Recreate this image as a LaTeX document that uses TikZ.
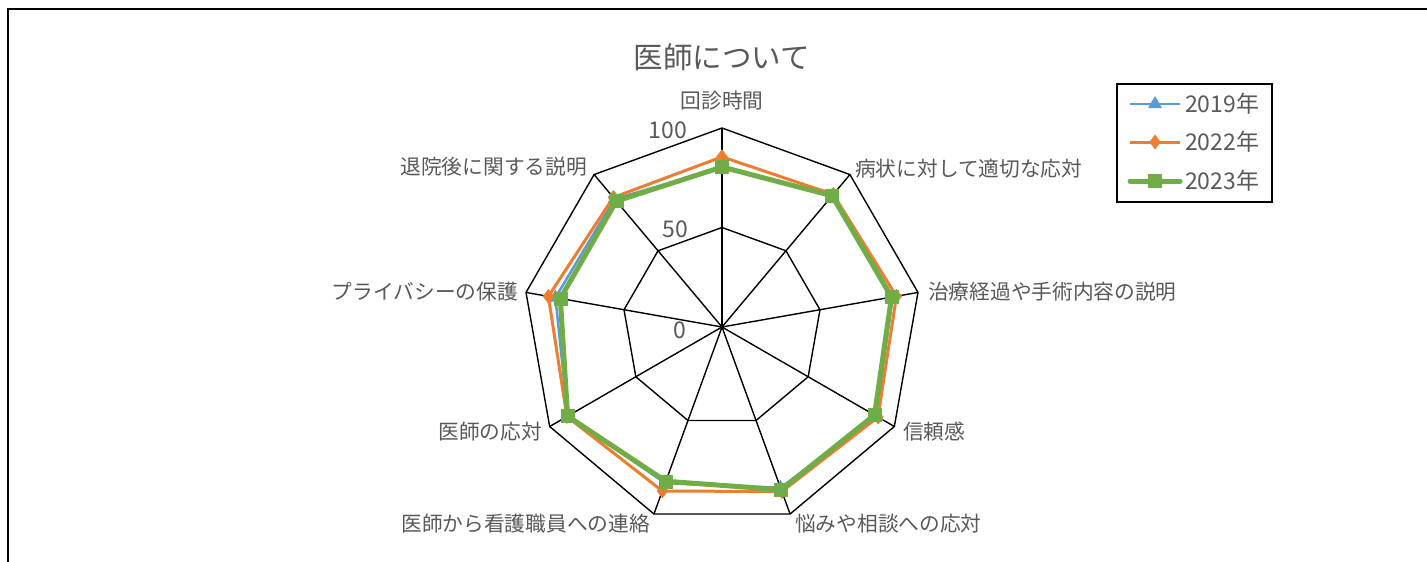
\documentclass[tikz,border=0pt]{standalone}
\usepackage{fontspec}
\setmainfont{Noto Sans CJK JP}
\usetikzlibrary{plotmarks}
\definecolor{txtgray}{HTML}{595959}
\definecolor{cA}{HTML}{5B9BD5}
\definecolor{cB}{HTML}{ED7D31}
\definecolor{cC}{HTML}{70AD47}
\begin{document}
\begin{tikzpicture}[x=1pt,y=-1pt,
  lbl/.style={text=txtgray,font=\fontsize{20.7}{24}\selectfont,inner sep=0pt},
  tick/.style={text=txtgray,font=\fontsize{23}{26}\selectfont,inner sep=0pt},
  leg/.style={text=txtgray,font=\fontsize{23}{26}\selectfont,inner sep=0pt,anchor=west},
  grid/.style={black,line width=1.4pt,line join=miter},
  l19/.style={cA,line width=2.5pt,line join=round},
  l22/.style={cB,line width=3pt,line join=round},
  l23/.style={cC,line width=5pt,line join=round,line cap=round},
  s19/.style={l19,mark=triangle*,mark size=7.5pt,mark options={solid,fill=cA,draw=cA,line width=0.5pt}},
  s22/.style={l22,mark=diamond*,mark size=7pt,mark options={solid,fill=cB,draw=cB,line width=0.5pt}},
  s23/.style={l23,mark=square*,mark size=6.5pt,mark options={solid,fill=cC,draw=cC,line width=0.5pt}}]
\useasboundingbox (0,0) rectangle (1427,562);
\fill[white] (0,0) rectangle (1427,562);
\draw[black,line width=2pt] (8,562) -- (8,9) -- (1427,9);
% title
\node[text=txtgray,font=\fontsize{29.5}{34}\selectfont,inner sep=0pt] (title) at (722,57) {医師について};
% grid
\def\cx{722}\def\cy{327}\def\R{1.99}
\foreach \r in {100,50}
  \draw[grid] ({\cx+\R*\r*cos(90)},{\cy-\R*\r*sin(90)})
   -- ({\cx+\R*\r*cos(50)},{\cy-\R*\r*sin(50)})
   -- ({\cx+\R*\r*cos(10)},{\cy-\R*\r*sin(10)})
   -- ({\cx+\R*\r*cos(-30)},{\cy-\R*\r*sin(-30)})
   -- ({\cx+\R*\r*cos(-70)},{\cy-\R*\r*sin(-70)})
   -- ({\cx+\R*\r*cos(-110)},{\cy-\R*\r*sin(-110)})
   -- ({\cx+\R*\r*cos(-150)},{\cy-\R*\r*sin(-150)})
   -- ({\cx+\R*\r*cos(170)},{\cy-\R*\r*sin(170)})
   -- ({\cx+\R*\r*cos(130)},{\cy-\R*\r*sin(130)}) -- cycle;
\foreach \a in {90,50,10,-30,-70,-110,-150,170,130}
  \draw[grid] (\cx,\cy) -- ({\cx+\R*100*cos(\a)},{\cy-\R*100*sin(\a)});
% tick labels
\node[tick] (t100) at (668,130) {100};
\node[tick] (t50) at (675,229) {50};
\node[tick] (t0) at (680,330) {0};
% axis labels
\node[lbl,anchor=center] (l1) at (722,101) {回診時間};
\node[lbl,anchor=west] (l2) at (855,169) {病状に対して適切な応対};
\node[lbl,anchor=west] (l3) at (928,292) {治療経過や手術内容の説明};
\node[lbl,anchor=west] (l4) at (903,432) {信頼感};
\node[lbl,anchor=west] (l5) at (795,524) {悩みや相談への応対};
\node[lbl,anchor=east] (l6) at (650,524) {医師から看護職員への連絡};
\node[lbl,anchor=east] (l7) at (542,432) {医師の応対};
\node[lbl,anchor=east] (l8) at (518,292) {プライバシーの保護};
\node[lbl,anchor=east] (l9) at (587,167) {退院後に関する説明};
% data series
\draw[s19] plot coordinates {
 ({\cx+\R*80*cos(90)},{\cy-\R*80*sin(90)})
 ({\cx+\R*86*cos(50)},{\cy-\R*86*sin(50)})
 ({\cx+\R*87*cos(10)},{\cy-\R*87*sin(10)})
 ({\cx+\R*89.5*cos(-30)},{\cy-\R*89.5*sin(-30)})
 ({\cx+\R*86*cos(-70)},{\cy-\R*86*sin(-70)})
 ({\cx+\R*83.5*cos(-110)},{\cy-\R*83.5*sin(-110)})
 ({\cx+\R*89.5*cos(-150)},{\cy-\R*89.5*sin(-150)})
 ({\cx+\R*85*cos(170)},{\cy-\R*85*sin(170)})
 ({\cx+\R*84*cos(130)},{\cy-\R*84*sin(130)})
 ({\cx+\R*80*cos(90)},{\cy-\R*80*sin(90)})
};
\draw[s22] plot coordinates {
 ({\cx+\R*85.5*cos(90)},{\cy-\R*85.5*sin(90)})
 ({\cx+\R*87*cos(50)},{\cy-\R*87*sin(50)})
 ({\cx+\R*89*cos(10)},{\cy-\R*89*sin(10)})
 ({\cx+\R*90.5*cos(-30)},{\cy-\R*90.5*sin(-30)})
 ({\cx+\R*88*cos(-70)},{\cy-\R*88*sin(-70)})
 ({\cx+\R*87.7*cos(-110)},{\cy-\R*87.7*sin(-110)})
 ({\cx+\R*90*cos(-150)},{\cy-\R*90*sin(-150)})
 ({\cx+\R*88.6*cos(170)},{\cy-\R*88.6*sin(170)})
 ({\cx+\R*85*cos(130)},{\cy-\R*85*sin(130)})
 ({\cx+\R*85.5*cos(90)},{\cy-\R*85.5*sin(90)})
};
\draw[s23] plot coordinates {
 ({\cx+\R*80.4*cos(90)},{\cy-\R*80.4*sin(90)})
 ({\cx+\R*86.1*cos(50)},{\cy-\R*86.1*sin(50)})
 ({\cx+\R*86.5*cos(10)},{\cy-\R*86.5*sin(10)})
 ({\cx+\R*88.5*cos(-30)},{\cy-\R*88.5*sin(-30)})
 ({\cx+\R*87*cos(-70)},{\cy-\R*87*sin(-70)})
 ({\cx+\R*82.5*cos(-110)},{\cy-\R*82.5*sin(-110)})
 ({\cx+\R*89.6*cos(-150)},{\cy-\R*89.6*sin(-150)})
 ({\cx+\R*82.5*cos(170)},{\cy-\R*82.5*sin(170)})
 ({\cx+\R*82.6*cos(130)},{\cy-\R*82.6*sin(130)})
 ({\cx+\R*80.4*cos(90)},{\cy-\R*80.4*sin(90)})
};
% legend
\draw[black,line width=1.5pt] (1117,84) rectangle (1272,202);
\coordinate (a1) at (1130,104); \coordinate (a2) at (1180,104);
\coordinate (b1) at (1130,142); \coordinate (b2) at (1180,142);
\coordinate (c1) at (1130,181); \coordinate (c2) at (1180,181);
\draw[l19] (a1) -- (a2);
\draw[l22] (b1) -- (b2);
\draw[l23] (c1) -- (c2);
\path[s19] plot coordinates {(1155,104)};
\path[s22] plot coordinates {(1155,142)};
\path[s23] plot coordinates {(1155,181)};
\node[leg] (g1) at (1185,104) {2019年};
\node[leg] (g2) at (1185,142) {2022年};
\node[leg] (g3) at (1185,181) {2023年};
\end{tikzpicture}
\end{document}
